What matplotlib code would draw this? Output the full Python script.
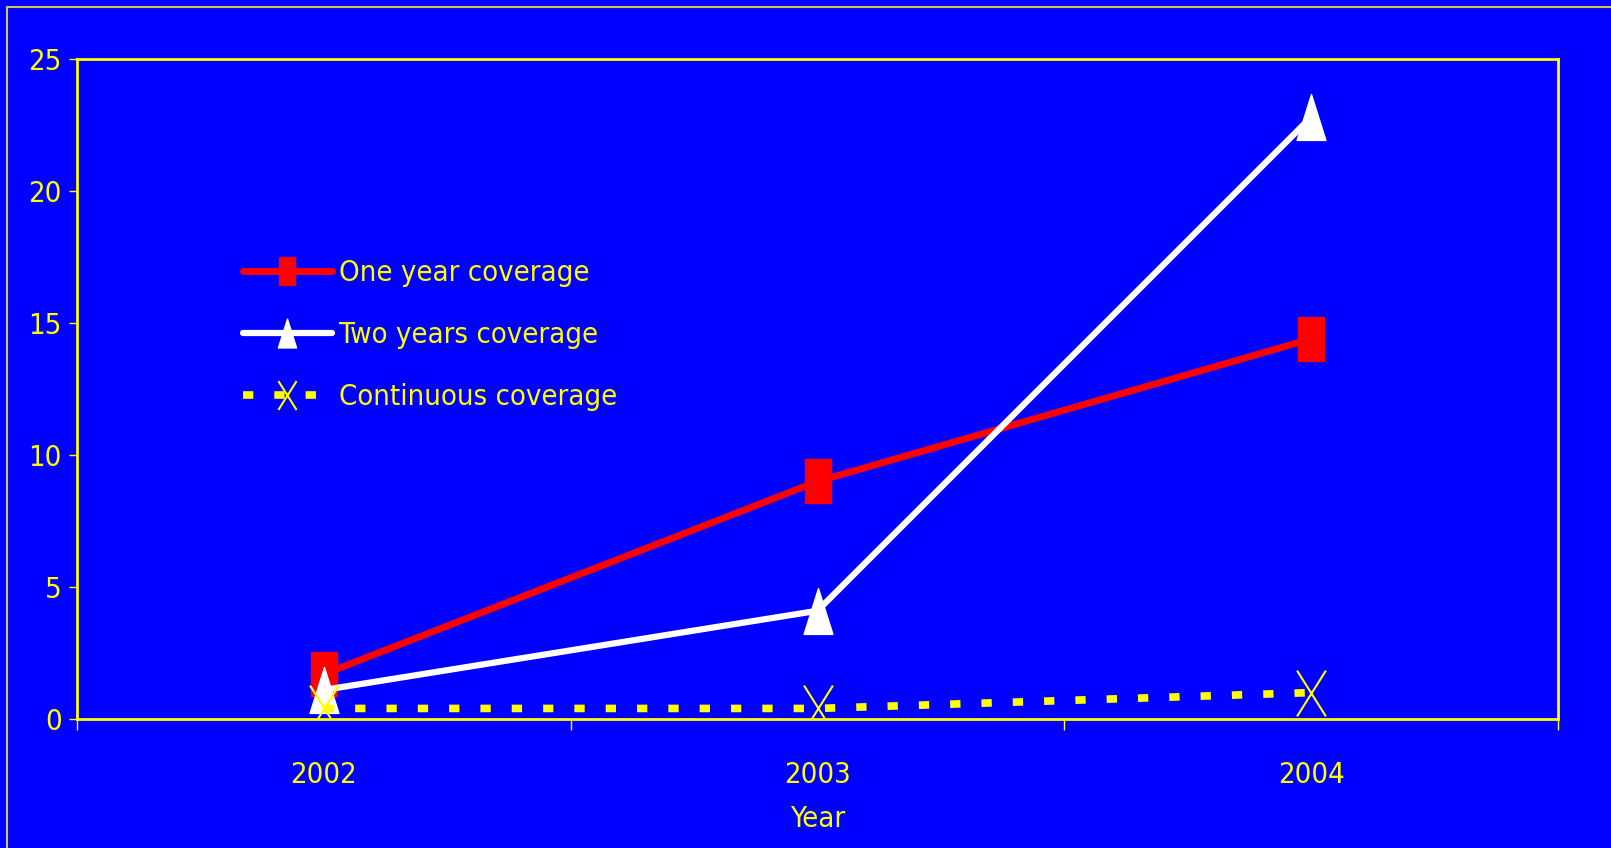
import matplotlib
matplotlib.use("Agg")
from matplotlib import pyplot as plt
from matplotlib.path import Path
from matplotlib.patches import Rectangle
import numpy as np

# data
years = ["2002", "2003", "2004"]
one_year = [1.7, 9.0, 14.4]
two_years = [1.1, 4.1, 22.8]
continuous = [0.4, 0.4, 1.0]
labels = ["One year coverage", "Two years coverage", "Continuous coverage"]

BLUE = "#0000FF"
YELLOW = "#FFFF00"

plt.rcParams['font.family'] = ['Liberation Sans Narrow', 'DejaVu Sans']
plt.rcParams['font.stretch'] = 'condensed'
FS = 21

# tall markers (the original chart is stretched vertically)
sq = Path([(-0.31, -0.5), (0.31, -0.5), (0.31, 0.5), (-0.31, 0.5), (-0.31, -0.5)],
          [Path.MOVETO, Path.LINETO, Path.LINETO, Path.LINETO, Path.CLOSEPOLY])
tri = Path([(0, 0.5), (-0.315, -0.5), (0.315, -0.5), (0, 0.5)],
           [Path.MOVETO, Path.LINETO, Path.LINETO, Path.CLOSEPOLY])
cross = Path([(-0.315, -0.5), (0.315, 0.5), (-0.315, 0.5), (0.315, -0.5)],
             [Path.MOVETO, Path.LINETO, Path.MOVETO, Path.LINETO])

W, H = 1611, 848
fig = plt.figure(figsize=(W / 100, H / 100), dpi=100, facecolor=BLUE)

# outer frame
fig.patches.append(Rectangle((7 / W, -0.05), 1.2, 1 - 7 / H + 0.05,
                             transform=fig.transFigure, fill=False,
                             edgecolor="#c8c850", lw=1.5))

ax = fig.add_axes([77 / W, 1 - 719 / H, (1558 - 77) / W, (719 - 59) / H])
ax.set_facecolor(BLUE)

x = np.arange(len(years))
ax.plot(x, one_year, color="#FF0000", lw=5, marker=sq, ms=31,
        mfc="#FF0000", mec="#FF0000", solid_capstyle="round", label=labels[0])
ax.plot(x, two_years, color="white", lw=4.5, marker=tri, ms=33,
        mfc="white", mec="white", solid_capstyle="round", label=labels[1])
cl, = ax.plot(x, continuous, color=YELLOW, lw=5.5, marker=cross, ms=33,
              mfc="none", mec=YELLOW, mew=1.5, label=labels[2])
cl.set_dashes((1.35, 2.75))
cl.set_dash_capstyle("butt")

ax.set_xlim(-0.5, 2.5)
ax.set_ylim(0, 25)
ax.set_xticks(x)
ax.set_xticklabels(years)
ax.set_xticks([-0.5, 0.5, 1.5, 2.5], minor=True)
ax.tick_params(axis="x", which="major", length=0, pad=30, labelsize=FS,
               labelcolor=YELLOW)
ax.tick_params(axis="x", which="minor", length=8, width=1, color=YELLOW,
               direction="out")
ax.set_yticks(np.arange(0, 26, 5))
ax.tick_params(axis="y", length=6, width=1, color=YELLOW, direction="out",
               pad=5, labelsize=FS, labelcolor=YELLOW)

for s in ax.spines.values():
    s.set_color(YELLOW)
    s.set_linewidth(2)

ax.set_xlabel("Year", fontsize=FS, color=YELLOW, labelpad=12)

leg = ax.legend(loc="upper left", bbox_to_anchor=(243 / W, 1 - 259 / H),
                bbox_transform=fig.transFigure, frameon=False, fontsize=FS,
                handlelength=3.05, handletextpad=0.25, labelspacing=1.17,
                borderpad=0, borderaxespad=0, markerscale=0.63)
for t in leg.get_texts():
    t.set_color(YELLOW)

fig.savefig("out.png", dpi=100, facecolor=BLUE)
